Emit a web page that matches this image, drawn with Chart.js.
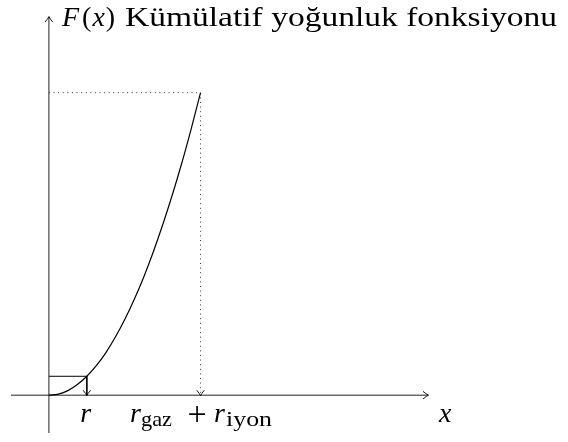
<!DOCTYPE html>
<html>
<head>
<meta charset="utf-8">
<script src="https://cdn.jsdelivr.net/npm/chart.js@4.4.1/dist/chart.umd.min.js"></script>
<style>
  html, body { margin: 0; padding: 0; background: #fff; }
  #wrap { width: 568px; height: 442px; }
</style>
</head>
<body>
<div id="wrap"><canvas id="chartCanvas" width="568" height="442"></canvas></div>
<script>
// axis range (same units on both axes)
const axisMin = -1;
const axisMax = 10;

// F(x) curve
const curveX = [0, 0.25, 0.5, 0.75, 1, 1.25, 1.5, 1.75, 2, 2.25, 2.5, 2.75, 3, 3.25, 3.5, 3.75, 4];
const curveY = [0, 0.03, 0.12, 0.28, 0.5, 0.78, 1.12, 1.53, 2, 2.53, 3.12, 3.78, 4.5, 5.28, 6.12, 7.03, 8];

// marked points on the x axis
const rX = 1, rY = 0.5;
const sumX = 4, sumY = 8;

const serif = '"Liberation Serif", "DejaVu Serif", serif';

function arrowHead(c, x, y, dir) {
  // tikz "to" style open arrow, dir = angle of travel
  c.save();
  c.translate(x, y);
  c.rotate(dir);
  c.beginPath();
  c.moveTo(-5, -3.8);
  c.quadraticCurveTo(-1.3, -0.7, 0.5, 0);
  c.quadraticCurveTo(-1.3, 0.7, -5, 3.8);
  c.lineWidth = 0.9;
  c.strokeStyle = '#000';
  c.stroke();
  c.restore();
}

// draw pieces of text one after another, returns end x
function runText(c, parts, x, y) {
  for (const p of parts) {
    c.font = p.font;
    c.fillText(p.t, x, y + (p.dy || 0));
    x += c.measureText(p.t).width + (p.gap || 0);
  }
  return x;
}

// text stretched a bit to a width (computer modern is wider than times)
function fitText(c, str, font, x, y, w) {
  c.save();
  c.font = font;
  const m = c.measureText(str).width;
  c.translate(x, y);
  c.scale(w / m, 1);
  c.fillText(str, 0, 0);
  c.restore();
}

const sketch = {
  id: 'sketch',
  beforeDatasetsDraw(ch) {
    const c = ch.ctx, xs = ch.scales.x, ys = ch.scales.y;
    const x0 = xs.getPixelForValue(0), y0 = ys.getPixelForValue(0);
    c.save();
    c.strokeStyle = '#222';
    c.lineWidth = 1;
    c.beginPath();
    c.moveTo(xs.getPixelForValue(axisMin), y0);
    c.lineTo(xs.getPixelForValue(axisMax), y0);
    c.moveTo(x0, ys.getPixelForValue(axisMin));
    c.lineTo(x0, ys.getPixelForValue(axisMax));
    c.stroke();
    c.restore();
    arrowHead(c, xs.getPixelForValue(axisMax), y0, 0);
    arrowHead(c, x0, ys.getPixelForValue(axisMax), -Math.PI / 2);
  },
  afterDatasetsDraw(ch) {
    const c = ch.ctx, xs = ch.scales.x, ys = ch.scales.y;
    const y0 = ys.getPixelForValue(0);
    arrowHead(c, xs.getPixelForValue(rX), y0, Math.PI / 2);
    arrowHead(c, xs.getPixelForValue(sumX), y0, Math.PI / 2);

    c.save();
    c.fillStyle = '#000';
    c.textBaseline = 'alphabetic';
    const it = 'italic 28px ' + serif, rm = '28px ' + serif, sub = '21px ' + serif;

    // title
    const ty = 26;
    runText(c, [
      { t: 'F', font: it, gap: 3 },
      { t: '(', font: rm, gap: 1 },
      { t: 'x', font: it, gap: 1 },
      { t: ')', font: rm }
    ], 62, ty);
    fitText(c, 'Kümülatif yoğunluk fonksiyonu', rm, 125, ty, 432);

    // axis label
    c.font = it;
    c.fillText('x', 439, 422);

    // r
    c.textAlign = 'center';
    c.fillText('r', xs.getPixelForValue(rX) - 1, 422);

    // r_gaz + r_iyon
    c.font = '34px ' + serif;
    c.fillText('+', 197, 425);
    c.textAlign = 'left';
    c.font = it;
    c.fillText('r', 130, 422);
    fitText(c, 'gaz', sub, 141, 426, 31);
    c.font = it;
    c.fillText('r', 214, 422);
    fitText(c, 'iyon', sub, 226, 426, 46);
    c.restore();
  }
};

const curve = curveX.map((x, i) => ({ x: x, y: curveY[i] }));

new Chart(document.getElementById('chartCanvas'), {
  type: 'scatter',
  data: {
    datasets: [
      {
        data: curve,
        showLine: true,
        borderColor: '#000',
        borderWidth: 1.2,
        pointRadius: 0,
        tension: 0.4,
        cubicInterpolationMode: 'monotone'
      },
      {
        data: [{ x: 0, y: rY }, { x: rX, y: rY }, { x: rX, y: 0 }],
        showLine: true,
        borderColor: '#000',
        borderWidth: 1,
        pointRadius: 0
      },
      {
        data: [{ x: 0, y: sumY }, { x: sumX, y: sumY }, { x: sumX, y: 0 }],
        showLine: true,
        borderColor: '#333',
        borderWidth: 1,
        borderDash: [1, 3.6],
        pointRadius: 0
      }
    ]
  },
  options: {
    responsive: false,
    animation: false,
    layout: { padding: { left: 11, right: 140, top: 17, bottom: 9 } },
    plugins: { legend: { display: false }, tooltip: { enabled: false } },
    scales: {
      x: { type: 'linear', min: axisMin, max: axisMax, display: false },
      y: { type: 'linear', min: axisMin, max: axisMax, display: false }
    }
  },
  plugins: [sketch]
});
</script>
</body>
</html>
